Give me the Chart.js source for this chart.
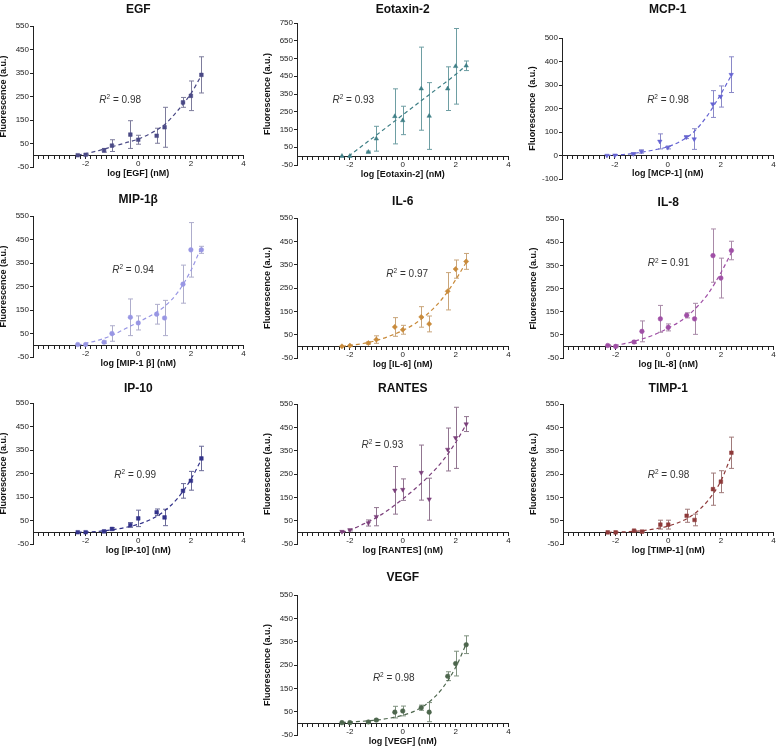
<!DOCTYPE html>
<html lang="en">
<head>
<meta charset="UTF-8">
<title>Standard curves</title>
<script src="https://cdn.jsdelivr.net/npm/chart.js"></script>
<style>
  body { margin: 0; background: #fff; overflow: hidden; }
  #wrap { position: relative; width: 778px; height: 748px; overflow: hidden; }
  #wrap canvas { position: absolute; }
</style>
</head>
<body>
<div id="wrap"></div>
<script>
// log concentration of the standards (nM)
const logConc = [-2.3, -2, -1.3, -1, -0.3, 0, 0.7, 1, 1.7, 2, 2.4];
// points
const fitX = [-2.3, -2, -1.5, -1, -0.5, 0, 0.5, 1, 1.5, 2, 2.4];

const egfMean = [0, 2, 21, 41, 88, 66, 83, 119, 225, 253, 342];
const egfErr  = [0, 2, 8, 25, 59, 19, 32, 85, 21, 63, 77];
const egfFit  = [0, 7, 20, 36, 52, 69, 95, 130, 190, 262, 340];

const eotMean = [0, 0, 23, 98, 224, 201, 380, 226, 380, 506, 509];
const eotErr  = [0, 0, 5, 70, 155, 80, 234, 188, 123, 213, 27];
const eotFitX = [-2.05, -1, 0, 1, 2, 2.4];
const eotFit  = [0, 118, 232, 346, 460, 511];

const mcpMean = [0, 1, 7, 17, 60, 34, 78, 70, 219, 251, 344];
const mcpErr  = [0, 1, 4, 7, 32, 6, 6, 44, 57, 45, 76];
const mcpFit  = [0, 2, 6, 14, 24, 37, 62, 102, 170, 260, 340];

const mipMean = [3, 3, 13, 50, 119, 95, 132, 116, 260, 406, 406];
const mipErr  = [0, 0, 5, 33, 78, 30, 42, 75, 81, 116, 15];
const mipFit  = [0, 8, 22, 42, 70, 98, 128, 165, 225, 318, 418];

const il6Mean = [0, 3, 14, 29, 83, 71, 126, 96, 236, 331, 364];
const il6Err  = [0, 2, 5, 16, 40, 19, 44, 34, 80, 39, 34];
const il6Fit  = [0, 4, 12, 25, 44, 68, 100, 145, 205, 285, 360];

const il8Mean = [4, 0, 19, 65, 119, 82, 134, 119, 392, 295, 414];
const il8Err  = [3, 2, 6, 45, 58, 15, 11, 67, 115, 86, 40];
const il8Fit  = [0, 5, 16, 32, 52, 79, 112, 160, 225, 318, 405];

const ip10Mean = [0, 0, 4, 14, 31, 59, 85, 63, 176, 219, 314];
const ip10Err  = [0, 0, 2, 5, 10, 35, 14, 35, 31, 40, 52];
const ip10Fit  = [0, 1, 4, 10, 20, 34, 56, 91, 145, 225, 310];

const rantesMean = [3, 10, 40, 67, 180, 183, 256, 142, 355, 405, 464];
const rantesErr  = [2, 4, 13, 39, 102, 46, 118, 90, 92, 131, 32];
const rantesFit  = [0, 10, 35, 63, 100, 143, 190, 243, 305, 385, 462];

const timpMean = [0, 0, 7, 3, 33, 33, 71, 53, 185, 217, 341];
const timpErr  = [0, 0, 2, 2, 19, 19, 28, 25, 69, 47, 67];
const timpFit  = [0, 1, 3, 7, 15, 27, 47, 80, 135, 220, 330];

const vegfMean = [3, 3, 6, 14, 48, 53, 67, 48, 202, 256, 337];
const vegfErr  = [1, 1, 2, 3, 25, 21, 11, 41, 19, 53, 38];
const vegfFit  = [3, 6, 9, 14, 22, 35, 55, 92, 150, 240, 340];

// panels: data refs + where each plot area sits on the page
const panels = [
  { title: 'EGF', xTitle: 'log [EGF] (nM)', mean: egfMean, err: egfErr, fx: fitX, fit: egfFit, r2: '0.98', r2x: -1.48, r2y: 236,
    yMin: -50, yMax: 550, color: '#4b4a86', errColor: '#7d7c9c', marker: 'rect', rot: 0,
    L: 33, T: 26, R: 245, B: 167, titleY: 10 },
  { title: 'Eotaxin-2', xTitle: 'log [Eotaxin-2] (nM)', mean: eotMean, err: eotErr, fx: eotFitX, fit: eotFit, r2: '0.93', r2x: -2.66, r2y: 314,
    yMin: -50, yMax: 750, color: '#3e7f86', errColor: '#6e9ea3', marker: 'triangle', rot: 0,
    L: 297, T: 23, R: 510, B: 165, titleY: 10 },
  { title: 'MCP-1', xTitle: 'log [MCP-1] (nM)', mean: mcpMean, err: mcpErr, fx: fitX, fit: mcpFit, r2: '0.98', r2x: -0.78, r2y: 237,
    yMin: -100, yMax: 500, color: '#6563d2', errColor: '#8a89c8', marker: 'triangle', rot: 180,
    L: 562, T: 38, R: 775, B: 179, titleY: 10, yTitle: 'Fluorescence  (a.u.)' },
  { title: 'MIP-1\u03b2', xTitle: 'log [MIP-1 \u03b2] (nM)', mean: mipMean, err: mipErr, fx: fitX, fit: mipFit, r2: '0.94', r2x: -0.99, r2y: 321,
    yMin: -50, yMax: 550, color: '#9896e4', errColor: '#aeadcc', marker: 'circle', rot: 0,
    L: 33, T: 216, R: 245, B: 357, titleY: 200 },
  { title: 'IL-6', xTitle: 'log [IL-6] (nM)', mean: il6Mean, err: il6Err, fx: fitX, fit: il6Fit, r2: '0.97', r2x: -0.62, r2y: 307,
    yMin: -50, yMax: 550, color: '#c98b3b', errColor: '#c9a57a', marker: 'rectRot', rot: 0,
    L: 297, T: 218, R: 510, B: 358, titleY: 202 },
  { title: 'IL-8', xTitle: 'log [IL-8] (nM)', mean: il8Mean, err: il8Err, fx: fitX, fit: il8Fit, r2: '0.91', r2x: -0.78, r2y: 357,
    yMin: -50, yMax: 550, color: '#a04fa6', errColor: '#a98aa8', marker: 'circle', rot: 0,
    L: 563, T: 219, R: 775, B: 358, titleY: 203 },
  { title: 'IP-10', xTitle: 'log [IP-10] (nM)', mean: ip10Mean, err: ip10Err, fx: fitX, fit: ip10Fit, r2: '0.99', r2x: -0.91, r2y: 244,
    yMin: -50, yMax: 550, color: '#33338a', errColor: '#6a6a98', marker: 'rect', rot: 0,
    L: 33, T: 403, R: 245, B: 544, titleY: 389 },
  { title: 'RANTES', xTitle: 'log [RANTES] (nM)', mean: rantesMean, err: rantesErr, fx: fitX, fit: rantesFit, r2: '0.93', r2x: -1.56, r2y: 372,
    yMin: -50, yMax: 550, color: '#7b3f7b', errColor: '#917590', marker: 'triangle', rot: 180,
    L: 297, T: 404, R: 510, B: 544, titleY: 389 },
  { title: 'TIMP-1', xTitle: 'log [TIMP-1] (nM)', mean: timpMean, err: timpErr, fx: fitX, fit: timpFit, r2: '0.98', r2x: -0.78, r2y: 246,
    yMin: -50, yMax: 550, color: '#8e3a3a', errColor: '#a07a7a', marker: 'rect', rot: 0,
    L: 563, T: 404, R: 775, B: 544, titleY: 389 },
  { title: 'VEGF', xTitle: 'log [VEGF] (nM)', mean: vegfMean, err: vegfErr, fx: fitX, fit: vegfFit, r2: '0.98', r2x: -1.13, r2y: 195,
    yMin: -50, yMax: 550, color: '#4d664d', errColor: '#7f917f', marker: 'circle', rot: 0,
    L: 297, T: 595, R: 510, B: 735, titleY: 578 }
];

const FONT = '"Liberation Sans", Arial, sans-serif';
Chart.defaults.font.family = FONT;
Chart.defaults.color = '#222';

const Y_W = 35;      // width kept for the y axis labels + title
const PAD_R = 3;
const PAD_B = 16;

function extras(p, canvasTop) {
  return {
    id: 'extras',
    beforeDatasetsDraw(chart) {
      const { ctx, scales: { x, y } } = chart;
      ctx.save();
      ctx.strokeStyle = p.errColor;
      ctx.lineWidth = 1;
      p.mean.forEach((m, i) => {
        const e = p.err[i];
        if (!e) return;
        const px = Math.round(x.getPixelForValue(logConc[i])) + 0.5;
        const top = y.getPixelForValue(m + e);
        const bot = y.getPixelForValue(m - e);
        ctx.beginPath();
        ctx.moveTo(px, top); ctx.lineTo(px, bot);
        ctx.moveTo(px - 2.5, top); ctx.lineTo(px + 2.5, top);
        ctx.moveTo(px - 2.5, bot); ctx.lineTo(px + 2.5, bot);
        ctx.stroke();
      });
      ctx.restore();
    },
    afterDraw(chart) {
      const { ctx, chartArea, scales: { x, y } } = chart;
      const cx = (chartArea.left + chartArea.right) / 2;
      ctx.save();
      ctx.fillStyle = '#111';
      ctx.textAlign = 'center';
      ctx.textBaseline = 'middle';
      ctx.font = 'bold 12px ' + FONT;
      ctx.fillText(p.title, cx, p.titleY - canvasTop);
      ctx.font = 'bold 9px ' + FONT;
      ctx.fillText(p.xTitle, cx, y.getPixelForValue(0) + 18.5);

      // R² label
      ctx.fillStyle = '#333';
      ctx.textAlign = 'left';
      let rx = x.getPixelForValue(p.r2x);
      const ry = y.getPixelForValue(p.r2y);
      ctx.font = 'italic 10px ' + FONT;
      ctx.fillText('R', rx, ry);
      rx += ctx.measureText('R').width;
      ctx.font = '6.5px ' + FONT;
      ctx.fillText('2', rx, ry - 3);
      rx += ctx.measureText('2').width;
      ctx.font = '10px ' + FONT;
      ctx.fillText(' = ' + p.r2, rx, ry);
      ctx.restore();
    }
  };
}

const wrap = document.getElementById('wrap');

panels.forEach(p => {
  const left = p.L - Y_W;
  const top = p.titleY - 10;
  const w = (p.R - p.L) + Y_W + PAD_R;
  const h = (p.B - top) + PAD_B;

  const cv = document.createElement('canvas');
  cv.width = w; cv.height = h;
  cv.style.left = left + 'px';
  cv.style.top = top + 'px';
  cv.style.width = w + 'px';
  cv.style.height = h + 'px';
  wrap.appendChild(cv);

  new Chart(cv.getContext('2d'), {
    type: 'scatter',
    data: {
      datasets: [
        {
          type: 'scatter',
          data: logConc.map((v, i) => ({ x: v, y: p.mean[i] })),
          pointStyle: p.marker,
          rotation: p.rot,
          pointRadius: p.marker === 'circle' ? 2.3 : 2.6,
          backgroundColor: p.color,
          borderColor: p.color,
          borderWidth: 0.5
        },
        {
          type: 'line',
          data: p.fx.map((v, i) => ({ x: v, y: p.fit[i] })),
          borderColor: p.color,
          borderWidth: 1.2,
          borderDash: [4, 3],
          pointRadius: 0,
          fill: false,
          cubicInterpolationMode: 'monotone'
        }
      ]
    },
    options: {
      responsive: false,
      animation: false,
      devicePixelRatio: 1,
      layout: { padding: { left: 0, top: p.T - top, right: PAD_R, bottom: h - (p.B - top) } },
      plugins: { legend: { display: false }, title: { display: false }, tooltip: { enabled: false } },
      scales: {
        x: {
          type: 'linear',
          position: { y: 0 },
          min: -4,
          max: 4,
          grid: { drawOnChartArea: false, drawTicks: true, tickLength: 3, color: '#222' },
          border: { color: '#222', width: 1 },
          ticks: {
            stepSize: 0.2,
            autoSkip: false,
            maxRotation: 0,
            maxTicksLimit: 100,
            padding: 1,
            font: { size: 8 },
            color: '#222',
            callback: v => {
              const r = Math.round(v);
              if (Math.abs(v - r) > 1e-6 || r % 2 !== 0 || r === -4) return '';
              return String(r);
            }
          }
        },
        y: {
          type: 'linear',
          position: 'left',
          min: p.yMin,
          max: p.yMax,
          grid: { drawOnChartArea: false, drawTicks: true, tickLength: 3, color: '#222' },
          border: { color: '#222', width: 1 },
          ticks: { stepSize: 100, padding: 1, font: { size: 8 }, color: '#222' },
          title: {
            display: true,
            text: p.yTitle || 'Fluorescence (a.u.)',
            font: { size: 9, weight: 'bold' },
            color: '#111',
            padding: 0
          },
          afterFit: s => { s.width = Y_W; s.paddingTop = 0; s.paddingBottom = 0; }
        }
      }
    },
    plugins: [extras(p, top)]
  });
});
</script>
</body>
</html>
